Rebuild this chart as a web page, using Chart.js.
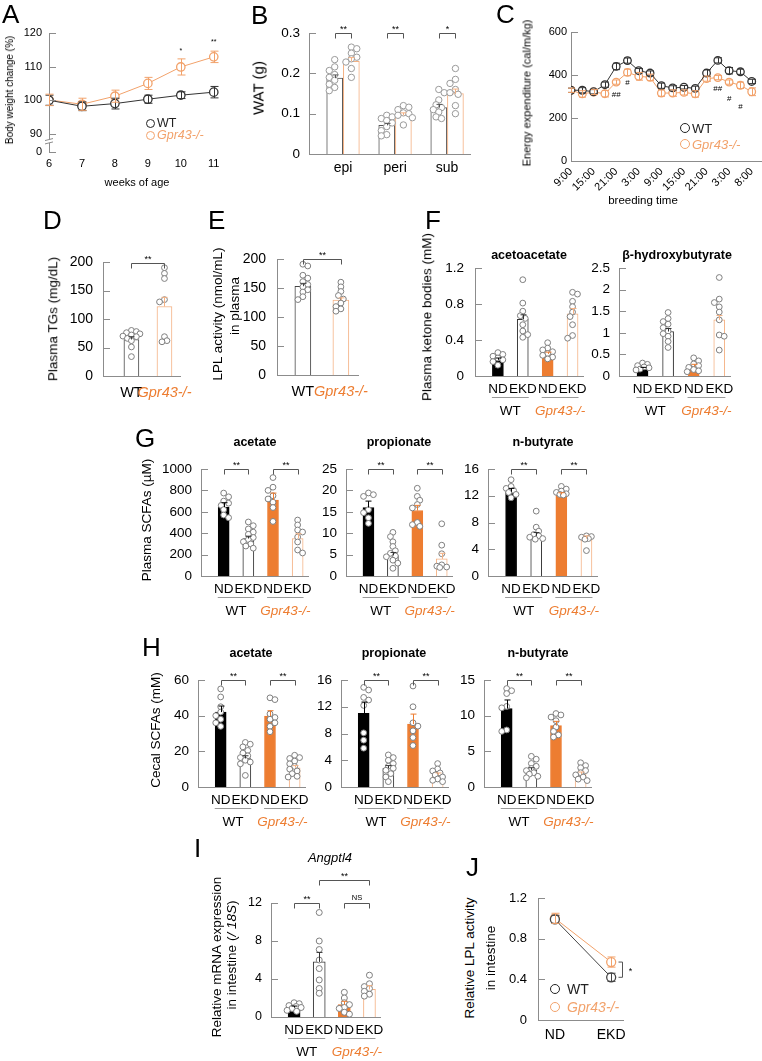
<!DOCTYPE html>
<html><head><meta charset="utf-8">
<script src="https://cdn.jsdelivr.net/npm/chart.js@4"></script>
<style>
html,body{margin:0;padding:0;background:#fff;overflow:hidden}
#page{position:relative;width:762px;height:1061px;overflow:hidden;font-family:Arial,"Liberation Sans",Helvetica,sans-serif;color:#000;background:#fff}
#page canvas{position:absolute}
.t{position:absolute;white-space:nowrap;line-height:1;transform:translate(-50%,-50%)}
.r{transform:translate(-50%,-50%) rotate(-90deg)}
.L{position:absolute;font-size:26px;line-height:26px}
.lg{position:absolute;white-space:nowrap;line-height:1;transform:translateY(-50%)}
.cc{position:absolute;border-radius:50%;box-sizing:border-box;border:1.5px solid}
</style></head><body><div id="page"></div>
<script>
// ================= DATA =================
// A: body weight change
const A_weeks = [6, 7, 8, 9, 10, 11];
const A_wt = [100.0, 98.2, 99.0, 100.3, 101.5, 102.4];
const A_wtErr = [1.5, 1.3, 1.6, 1.2, 1.0, 1.7];
const A_ko = [100.1, 98.8, 101.2, 105.0, 109.9, 112.9];
const A_koErr = [1.7, 1.8, 1.8, 1.8, 2.4, 1.7];
const A_yTicks = [84.6, 90, 100, 110, 120];
const A_yLabels = ['0', '90', '100', '110', '120'];
const A_sig = [{x: 10, y: 114.6, t: '*'}, {x: 11, y: 117.4, t: '**'}];

// B: WAT
const B_cats = ['epi', 'peri', 'sub'];
const B_wt = [0.188, 0.071, 0.115];
const B_wtErr = [0.008, 0.005, 0.008];
const B_ko = [0.23, 0.096, 0.15];
const B_koErr = [0.009, 0.006, 0.011];
const B_wtPts = [[0.234,0.216,0.207,0.197,0.19,0.183,0.173,0.165,0.157],
                 [0.096,0.092,0.088,0.083,0.077,0.068,0.058,0.048,0.045],
                 [0.16,0.152,0.134,0.122,0.115,0.11,0.104,0.092,0.088]];
const B_koPts = [[0.265,0.261,0.25,0.24,0.236,0.228,0.212,0.19],
                 [0.12,0.116,0.11,0.102,0.1,0.096,0.09,0.072],
                 [0.212,0.185,0.175,0.16,0.152,0.148,0.12,0.1]];
const B_sig = ['**', '**', '*'];
const B_yTicks = [0, 0.1, 0.2, 0.3];

// C: energy expenditure
const C_times = ['9:00','15:00','21:00','3:00','9:00','15:00','21:00','3:00','8:00'];
const C_wt = [329,329,322,355,440,467,420,409,350,340,343,338,409,468,420,415,370];
const C_wtErr = [10,12,10,12,15,12,10,10,12,10,8,10,15,12,15,12,10];
const C_ko = [329,312,321,313,367,412,394,389,316,316,319,312,383,388,367,352,322];
const C_koErr = [10,15,12,15,10,15,18,15,15,15,12,15,12,10,10,15,18];
const C_sig = [{i:4,y:308,t:'##'},{i:5,y:363,t:'#'},{i:13,y:335,t:'##'},{i:14,y:287,t:'#'},{i:15,y:252,t:'#'}];
const C_yTicks = [0, 200, 400, 600];

// D / E
const DE_groups = ['WT', 'Gpr43-/-'];
const D_mean = [64, 122];
const D_err = [5, 16];
const D_pts = [[80,78,76,74,72,70,69,66,62,51,34],[190,180,171,134,130,69,62,60]];
const D_yTicks = [0, 50, 100, 150, 200];
const E_mean = [153, 129];
const E_err = [5, 4];
const E_pts = [[191,188,172,167,161,156,152,147,143,135,130],[160,152,144,137,131,124,118,114,110]];
const E_yTicks = [0, 50, 100, 150, 200];

// diets / genotypes for 4-bar panels
const diets = ['ND', 'EKD', 'ND', 'EKD'];
const genotypes = ['WT', 'Gpr43-/-'];

// F: ketone bodies
const F_acetoMean = [0.18, 0.63, 0.245, 0.69];
const F_acetoErr = [0.02, 0.05, 0.02, 0.06];
const F_acetoPts = [[0.26,0.24,0.22,0.2,0.18,0.16,0.12],[1.07,0.81,0.72,0.67,0.64,0.57,0.5,0.46,0.43],
                    [0.37,0.31,0.29,0.27,0.25,0.23,0.21,0.19],[0.93,0.91,0.83,0.77,0.71,0.66,0.57,0.45,0.42]];
const F_acetoTicks = [0, 0.4, 0.8, 1.2];
const F_bhbMean = [0.18, 1.03, 0.22, 1.3];
const F_bhbErr = [0.02, 0.07, 0.05, 0.1];
const F_bhbPts = [[0.3,0.27,0.24,0.21,0.19,0.16,0.14],[1.47,1.33,1.26,1.2,1.12,1.04,0.98,0.92,0.8,0.66],
                  [0.42,0.35,0.28,0.24,0.2,0.15,0.12,0.1],[2.28,1.78,1.7,1.6,1.48,1.3,0.95,0.92,0.6]];
const F_bhbTicks = [0, 0.5, 1, 1.5, 2, 2.5];

// G: plasma SCFAs (uM)
const G_acMean = [645, 350, 710, 350];
const G_acErr = [40, 22, 65, 45];
const G_acPts = [[775,740,700,680,660,620,570,545],[505,470,440,410,390,360,340,320,300,280,260],
                 [920,830,800,750,720,690,640,510],[523,477,430,411,364,318,243,215]];
const G_acTicks = [0, 200, 400, 600, 800, 1000];
const G_prMean = [16, 4.8, 15.3, 4.0];
const G_prErr = [1.5, 0.7, 1.2, 1.3];
const G_prPts = [[19.4,19,18.6,15.5,14.8,13.6,12.3],[10.2,9.2,8,6.9,5.9,5.3,4.7,4.5,3.7,3,1.8],
                 [20.5,18.6,17.7,16.7,15.9,12.5,12,11.6],[12.2,7.2,5.2,2.6,2.3,2.0,2.1]];
const G_prTicks = [0, 5, 10, 15, 20, 25];
const G_buMean = [12.6, 6.0, 12.2, 5.6];
const G_buErr = [0.5, 0.5, 0.25, 0.4];
const G_buPts = [[14.4,13.4,13.1,12.8,12.5,12.2,11.7],[9.7,7.3,6.7,6.2,6.0,5.8,5.6,5.5],
                 [13.4,13,12.7,12.5,12.3,12.2,12.1],[6.0,5.9,5.8,5.6,5.5,3.8]];
const G_buTicks = [0, 4, 8, 12, 16];

// H: cecal SCFAs (mM)
const H_acMean = [42, 16, 39.8, 10.8];
const H_acErr = [3.4, 1.5, 3, 1.2];
const H_acPts = [[55,50.5,45,42,40,38,36,34],[25,24,22.5,20.5,19,17.5,16.5,15,14,13,6.5],
                 [50,49,41,39,38,36,34,31],[17.8,16.5,16,14.5,13,11.5,10,9,7.5,6,5.6]];
const H_acTicks = [0, 20, 40, 60];
const H_prMean = [11, 2.8, 9.4, 1.8];
const H_prErr = [1.7, 0.4, 1.5, 0.3];
const H_prPts = [[14.9,14.5,13.4,13,12.2,8.1,7,5.8],[4.8,4.4,4.0,3.5,3.1,2.8,2.5,2.0,1.5,0.8],
                 [15.1,12,9.6,9.1,8.4,7.4,6.2],[3.5,2.7,2.4,2.1,1.8,1.5,1.2,1.0,0.8]];
const H_prTicks = [0, 4, 8, 12, 16];
const H_buMean = [11, 2.4, 8.6, 1.8];
const H_buErr = [1.2, 0.3, 0.6, 0.3];
const H_buPts = [[13.8,13.5,13.1,11.3,11.1,8.0,7.8],[4.3,3.9,3.3,2.9,2.6,2.3,2.0,1.8,1.5,1.3],
                 [10.3,10.1,9.8,9.3,8.4,7.8,7.3,7.0],[3.4,3.0,2.7,2.3,2.0,1.7,1.4,1.1,0.9]];
const H_buTicks = [0, 5, 10, 15];

// I: Angptl4
const I_mean = [1.0, 5.8, 1.3, 2.9];
const I_err = [0.15, 1.0, 0.35, 0.4];
const I_pts = [[1.5,1.4,1.2,1.1,1.0,0.9,0.7,0.6],[11,8,7.1,6,5.1,3.9,3,2.5],
               [2.6,2.0,1.5,1.3,1.0,0.9,0.5,0.3],[4.4,3.5,3.2,3.0,2.7,2.4,2.2]];
const I_ticks = [0, 4, 8, 12];

// J: LPL activity in intestine
const J_diet = ['ND', 'EKD'];
const J_wt = [0.99, 0.42];
const J_wtErr = [0.04, 0.04];
const J_ko = [1.0, 0.57];
const J_koErr = [0.05, 0.05];
const J_ticks = [0, 0.4, 0.8, 1.2];

// ================= STYLE =================
const FONT = 'Arial, "Liberation Sans", Helvetica, sans-serif';
const AX = '#8c8c8c', OR = '#ED7D31', LOR = '#F4B183', LN_OR = '#F2A26B', DOT = '#7f7f7f';
Chart.defaults.font.family = FONT;
Chart.defaults.color = '#000';
const page = document.getElementById('page');
let exId = 0;

function geom(g) {
  const yW = g.yW, xH = g.xH, padT = g.padT ?? 25, padR = g.padR ?? 30;
  const left = g.x0 - yW, top = g.yTop - padT;
  return {left, top, w: Math.round(g.x1 - left + padR), h: Math.round(g.y0 + xH - top), yW, xH, padT, padR};
}
function makeCanvas(G) {
  const c = document.createElement('canvas');
  c.width = G.w; c.height = G.h;
  c.style.left = G.left + 'px'; c.style.top = G.top + 'px';
  c.style.width = G.w + 'px'; c.style.height = G.h + 'px';
  page.appendChild(c);
  return c;
}
function swarm(vals, pxY, r, half) {
  const placed = [], off = new Array(vals.length);
  const idx = vals.map((_, i) => i).sort((a, b) => vals[b] - vals[a]);
  const minD = 2 * r * 0.78, step = r * 0.85;
  idx.forEach(i => {
    const y = vals[i] * pxY;
    let best = null;
    for (let k = 0; k <= 12 && best === null; k++) {
      const cands = k === 0 ? [0] : ((k + i) % 2 ? [k * step, -k * step] : [-k * step, k * step]);
      for (const s of cands) {
        if (Math.abs(s) > half) continue;
        if (placed.every(p => Math.hypot(p.x - s, p.y - y) >= minD)) { best = s; break; }
      }
    }
    if (best === null) {
      let bd = -1; best = 0;
      for (let s = -half; s <= half; s += 0.5) {
        const dm = Math.min(...placed.map(p => Math.hypot(p.x - s, p.y - y)));
        if (dm > bd) { bd = dm; best = s; }
      }
    }
    placed.push({x: best, y}); off[i] = best;
  });
  return off;
}
function makeExtras(sp) {
  return {
    id: 'ex' + (++exId),
    afterDatasetsDraw(chart) {
      const ctx = chart.ctx, xs = chart.scales.x, ys = chart.scales.y, ca = chart.chartArea;
      const X = v => xs.getPixelForValue(v), Y = v => ys.getPixelForValue(v);
      ctx.save();
      ctx.lineWidth = 1; ctx.strokeStyle = AX;
      ys.ticks.forEach(t => {
        const y = Math.round(Y(t.value)) + 0.5;
        ctx.beginPath(); ctx.moveTo(ca.left, y); ctx.lineTo(ca.left + 7, y); ctx.stroke();
      });
      if (sp.breakAt) {
        const y1 = Y(sp.breakAt[0]), y2 = Y(sp.breakAt[1]);
        ctx.fillStyle = '#fff'; ctx.fillRect(ca.left - 2, y1, 4, y2 - y1);
        ctx.beginPath(); ctx.moveTo(ca.left - 4, y1 + 1); ctx.lineTo(ca.left + 4, y1 - 1);
        ctx.moveTo(ca.left - 4, y2 + 1); ctx.lineTo(ca.left + 4, y2 - 1); ctx.stroke();
      }
      (sp.errors || []).forEach(e => {
        const x = Math.round(X(e.x)) + 0.5, yt = Y(e.y + e.e), yb = e.both ? Y(e.y - e.e) : Y(e.y);
        ctx.strokeStyle = e.c; ctx.lineWidth = 1;
        ctx.beginPath(); ctx.moveTo(x, yt); ctx.lineTo(x, yb);
        ctx.moveTo(x - e.cap, yt); ctx.lineTo(x + e.cap, yt);
        if (e.both) { ctx.moveTo(x - e.cap, yb); ctx.lineTo(x + e.cap, yb); }
        ctx.stroke();
      });
      ctx.fillStyle = '#000'; ctx.textAlign = 'center';
      (sp.brackets || []).forEach(b => {
        const x1 = Math.round(X(b.a)) + 0.5, x2 = Math.round(X(b.b)) + 0.5, y = Math.round(Y(b.y)) + 0.5 - (b.dy || 0);
        ctx.strokeStyle = '#555'; ctx.lineWidth = 1;
        ctx.beginPath(); ctx.moveTo(x1, y + 5); ctx.lineTo(x1, y); ctx.lineTo(x2, y); ctx.lineTo(x2, y + 5); ctx.stroke();
        ctx.font = `${b.size || 9}px ${FONT}`; ctx.textBaseline = 'alphabetic';
        ctx.fillText(b.t, (x1 + x2) / 2, y - (b.t === 'NS' ? 4 : 2));
      });
      (sp.vbrackets || []).forEach(b => {
        const x = Math.round(X(b.x) + b.dx) + 0.5, y1 = Y(b.y1), y2 = Y(b.y2);
        ctx.strokeStyle = '#555';
        ctx.beginPath(); ctx.moveTo(x - 4, y1); ctx.lineTo(x, y1); ctx.lineTo(x, y2); ctx.lineTo(x - 4, y2); ctx.stroke();
        ctx.font = `9px ${FONT}`; ctx.textBaseline = 'middle';
        ctx.fillText(b.t, x + 8, (y1 + y2) / 2 + 2);
      });
      (sp.texts || []).forEach(t => {
        ctx.font = `${t.size || 8}px ${FONT}`; ctx.textBaseline = 'middle'; ctx.fillStyle = t.c || '#000';
        ctx.fillText(t.t, X(t.x), Y(t.y));
      });
      (sp.groups || []).forEach(gp => {
        const x1 = X(gp.a - 0.24), x2 = X(gp.b + 0.24), yl = Math.round(ca.bottom + 21) + 0.5;
        ctx.strokeStyle = '#9a9a9a'; ctx.lineWidth = 1;
        ctx.beginPath(); ctx.moveTo(x1, yl); ctx.lineTo(x2, yl); ctx.stroke();
        ctx.fillStyle = gp.c; ctx.textBaseline = 'middle';
        ctx.font = `${gp.italic ? 'italic ' : ''}13.5px ${FONT}`;
        ctx.fillText(gp.t, (X(gp.a) + X(gp.b)) / 2, ca.bottom + 35);
      });
      ctx.restore();
    }
  };
}
function baseOptions(G, d) {
  return {
    responsive: false, animation: false, devicePixelRatio: 1, events: [],
    layout: {padding: {top: G.padT, right: G.padR, left: 0, bottom: 0}},
    plugins: {legend: {display: false}, tooltip: {enabled: false}},
    scales: {
      x: {type: 'linear', min: d.xmin, max: d.xmax, offset: false,
          grid: {display: false, drawTicks: false},
          border: {display: d.xBorder !== false, color: AX, width: 1},
          afterBuildTicks: s => { s.ticks = d.xticks.map(v => ({value: v})); },
          afterFit: s => { s.height = G.xH; },
          ticks: {autoSkip: false, maxRotation: d.rot || 0, minRotation: d.rot || 0, padding: d.xPad,
                  callback: (v, i) => d.xlabels[i],
                  color: c => (d.xcolors ? d.xcolors[c.index] : '#000'),
                  font: c => ({family: FONT, size: d.xFont, style: (d.xitalic && d.xitalic[c.index]) ? 'italic' : 'normal'})}},
      y: {type: 'linear', min: d.ymin, max: d.ymax,
          grid: {display: false, drawTicks: false},
          border: {color: AX, width: 1},
          afterBuildTicks: s => { s.ticks = d.yticks.map(v => ({value: v})); },
          afterFit: s => { s.width = G.yW; },
          ticks: {padding: d.yPad || 8, callback: (v, i) => d.ylabels[i], color: '#000', font: {family: FONT, size: d.yFont}}}
    }
  };
}
function barChart(g, d) {
  const G = geom(g);
  const cv = makeCanvas(G);
  const pxX = (g.x1 - g.x0) / (d.xmax - d.xmin), pxY = (g.y0 - g.yTop) / (d.ymax - d.ymin);
  const pts = [];
  d.bars.forEach(b => {
    const off = swarm(b.pts, pxY, d.r, d.barW / 2 + 1);
    b.pts.forEach((v, j) => pts.push({x: b.x + off[j] / pxX, y: v}));
  });
  const sp = Object.assign({}, d.extra || {});
  sp.errors = d.bars.map(b => ({x: b.x, y: b.v, e: b.e, c: b.ec, cap: 3}));
  new Chart(cv, {
    type: 'bar',
    data: {datasets: [
      {type: 'scatter', data: pts, pointRadius: d.r, pointBackgroundColor: '#fff', pointBorderColor: d.dot || DOT, pointBorderWidth: 1, order: 0},
      {type: 'bar', data: d.bars.map(b => ({x: b.x, y: b.v})), backgroundColor: d.bars.map(b => b.fill),
       borderColor: d.bars.map(b => b.stroke), borderWidth: 1, barThickness: d.barW, grouped: false, order: 1}
    ]},
    options: baseOptions(G, d),
    plugins: [makeExtras(sp)]
  });
}
function lineChart(g, d) {
  const G = geom(g);
  const cv = makeCanvas(G);
  const sp = Object.assign({}, d.extra || {});
  sp.errors = [];
  d.series.forEach(s => s.y.forEach((v, i) => sp.errors.push({x: s.x[i], y: v, e: s.err[i], c: s.color, cap: d.cap || 3.5, both: true})));
  new Chart(cv, {
    type: 'scatter',
    data: {datasets: d.series.map(s => ({data: s.x.map((x, i) => ({x, y: s.y[i]})), showLine: true, borderColor: s.color,
      borderWidth: 1, pointRadius: d.r, pointBackgroundColor: '#fff', pointBorderColor: s.color, pointBorderWidth: 1.3}))},
    options: baseOptions(G, d),
    plugins: [makeExtras(sp)]
  });
}
const STD_FILL = ['#000', '#fff', OR, '#fff'], STD_STROKE = ['#000', '#333', OR, LOR], STD_ERR = ['#000', '#333', OR, LOR];
function fourBars(mean, err, pts) {
  return mean.map((v, i) => ({x: i, v, e: err[i], pts: pts[i], fill: STD_FILL[i], stroke: STD_STROKE[i], ec: STD_ERR[i]}));
}
function fourPanel(x0, x1, yTop, y0, ticks, mean, err, pts, o) {
  o = o || {};
  barChart({x0, x1, yTop, y0, yW: o.yW || 55, xH: 50, padT: o.padT || 28, padR: 30}, {
    xmin: -0.92, xmax: 3.42, ymin: 0, ymax: ticks[ticks.length - 1], yticks: ticks, ylabels: ticks.map(String),
    xticks: [0, 1, 2, 3], xlabels: diets, xFont: 13.5, xPad: 5, yFont: o.yFont || 13.5, yPad: o.yPad || 9,
    r: o.r || 2.9, barW: o.barW || 11, bars: fourBars(mean, err, pts),
    extra: {
      brackets: o.brackets || [],
      groups: [{a: 0, b: 1, t: genotypes[0], c: '#000'}, {a: 2, b: 3, t: genotypes[1], c: OR, italic: true}]
    }
  });
}

// ================= PANELS =================
// A
lineChart({x0: 49, x1: 222, yTop: 33, y0: 152, yW: 45, xH: 30, padT: 20, padR: 20}, {
  xmin: 6, xmax: 11.25, ymin: 84.6, ymax: 120, yticks: A_yTicks, ylabels: A_yLabels,
  xticks: A_weeks, xlabels: A_weeks.map(String), xFont: 11, xPad: 5, yFont: 11, yPad: 7, xBorder: false, r: 4.2, cap: 4,
  series: [{x: A_weeks, y: A_wt, err: A_wtErr, color: '#333'}, {x: A_weeks, y: A_ko, err: A_koErr, color: LN_OR}],
  extra: {breakAt: [88.3, 87.3], texts: A_sig.map(s => ({x: s.x, y: s.y, t: s.t, size: 7}))}
});
// B
(function () {
  const bars = [];
  B_cats.forEach((c, i) => {
    bars.push({x: i - 0.16, v: B_wt[i], e: B_wtErr[i], pts: B_wtPts[i], fill: '#fff', stroke: '#555', ec: '#555'});
    bars.push({x: i + 0.16, v: B_ko[i], e: B_koErr[i], pts: B_koPts[i], fill: '#fff', stroke: LOR, ec: LOR});
  });
  barChart({x0: 309, x1: 470, yTop: 33, y0: 154, yW: 55, xH: 30, padT: 28, padR: 20}, {
    xmin: -0.654, xmax: 2.44, ymin: 0, ymax: 0.3, yticks: B_yTicks, ylabels: B_yTicks.map(String),
    xticks: [0, 1, 2], xlabels: B_cats, xFont: 14, xPad: 6, yFont: 13.5, yPad: 9,
    r: 3.2, barW: 16, dot: '#9a9a9a', bars,
    extra: {brackets: B_cats.map((c, i) => ({a: i - 0.16, b: i + 0.16, y: 0.3, t: B_sig[i]}))}
  });
})();
// C
lineChart({x0: 571, x1: 763, yTop: 32, y0: 161, yW: 45, xH: 45, padT: 20, padR: 10}, {
  xmin: 0, xmax: 17, ymin: 0, ymax: 600, yticks: C_yTicks, ylabels: C_yTicks.map(String),
  xticks: C_times.map((_, i) => i * 2), xlabels: C_times, rot: 45, xFont: 11, xPad: 4, yFont: 11, yPad: 4, r: 3.8, cap: 3.5,
  series: [{x: C_wt.map((_, i) => i), y: C_wt, err: C_wtErr, color: '#333'},
           {x: C_ko.map((_, i) => i), y: C_ko, err: C_koErr, color: LN_OR}],
  extra: {texts: C_sig.map(s => ({x: s.i, y: s.y, t: s.t, size: 8}))}
});
// D
barChart({x0: 103, x1: 180, yTop: 262, y0: 376, yW: 60, xH: 30, padT: 28, padR: 40}, {
  xmin: -0.86, xmax: 1.47, ymin: 0, ymax: 200, yticks: D_yTicks, ylabels: D_yTicks.map(String),
  xticks: [0, 1], xlabels: DE_groups, xcolors: ['#000', OR], xitalic: [false, true], xFont: 14.5, xPad: 8, yFont: 14, yPad: 10,
  r: 2.9, barW: 15,
  bars: [{x: 0, v: D_mean[0], e: D_err[0], pts: D_pts[0], fill: '#fff', stroke: '#444', ec: '#444'},
         {x: 1, v: D_mean[1], e: D_err[1], pts: D_pts[1], fill: '#fff', stroke: LOR, ec: LOR}],
  extra: {brackets: [{a: 0, b: 1, y: 198, t: '**'}]}
});
// E
barChart({x0: 277, x1: 358, yTop: 259, y0: 375, yW: 60, xH: 30, padT: 28, padR: 40}, {
  xmin: -0.68, xmax: 1.45, ymin: 0, ymax: 200, yticks: E_yTicks, ylabels: E_yTicks.map(String),
  xticks: [0, 1], xlabels: DE_groups, xcolors: ['#000', OR], xitalic: [false, true], xFont: 14.5, xPad: 8, yFont: 14, yPad: 11,
  r: 2.9, barW: 16,
  bars: [{x: 0, v: E_mean[0], e: E_err[0], pts: E_pts[0], fill: '#fff', stroke: '#444', ec: '#444'},
         {x: 1, v: E_mean[1], e: E_err[1], pts: E_pts[1], fill: '#fff', stroke: LOR, ec: LOR}],
  extra: {brackets: [{a: 0, b: 1, y: 200, t: '**'}]}
});
// F
fourPanel(475, 583, 268, 376, F_acetoTicks, F_acetoMean, F_acetoErr, F_acetoPts, {yPad: 11});
fourPanel(619, 730, 268, 376, F_bhbTicks, F_bhbMean, F_bhbErr, F_bhbPts, {yPad: 9});
// G
const pairBr = [{a: 0, b: 1, y: 0, t: '**'}, {a: 2, b: 3, y: 0, t: '**'}];
function br(max) { return pairBr.map(b => Object.assign({}, b, {y: max})); }
fourPanel(201, 308, 469, 576, G_acTicks, G_acMean, G_acErr, G_acPts, {brackets: br(1000)});
fourPanel(346, 452, 469, 576, G_prTicks, G_prMean, G_prErr, G_prPts, {brackets: br(25)});
fourPanel(488, 597, 469, 576, G_buTicks, G_buMean, G_buErr, G_buPts, {brackets: br(16)});
// H
fourPanel(198, 305, 680, 787, H_acTicks, H_acMean, H_acErr, H_acPts, {brackets: br(60)});
fourPanel(341, 448, 680, 787, H_prTicks, H_prMean, H_prErr, H_prPts, {brackets: br(16)});
fourPanel(484, 591, 680, 787, H_buTicks, H_buMean, H_buErr, H_buPts, {brackets: br(15)});
// I
fourPanel(271, 380, 903, 1017, I_ticks, I_mean, I_err, I_pts, {yFont: 12.5, yPad: 9, barW: 12, r: 3, padT: 50,
  brackets: [{a: 0, b: 1, y: 12, t: '**'}, {a: 2, b: 3, y: 12, t: 'NS', size: 7.5}, {a: 1, b: 3, y: 14.4, t: '**'}]});
// J
lineChart({x0: 538, x1: 623, yTop: 898, y0: 1020, yW: 50, xH: 30, padT: 20, padR: 40}, {
  xmin: -0.3, xmax: 1.21, ymin: 0, ymax: 1.2, yticks: J_ticks, ylabels: J_ticks.map(String),
  xticks: [0, 1], xlabels: J_diet, xFont: 14, xPad: 7, yFont: 13, yPad: 11, r: 4.5, cap: 4,
  series: [{x: [0, 1], y: J_wt, err: J_wtErr, color: '#444'}, {x: [0, 1], y: J_ko, err: J_koErr, color: LN_OR}],
  extra: {vbrackets: [{x: 1, dx: 11, y1: J_ko[1], y2: J_wt[1], t: '*'}]}
});

// ================= TEXT =================
function T(html, x, y, css, rot) {
  const d = document.createElement('div');
  d.className = 't' + (rot ? ' r' : '');
  d.style.cssText = `left:${x}px;top:${y}px;` + (css || '');
  d.innerHTML = html; page.appendChild(d);
}
function letter(s, x, capTop) {
  const d = document.createElement('div');
  d.className = 'L'; d.style.left = x + 'px'; d.style.top = (capTop - 3.4) + 'px';
  d.textContent = s; page.appendChild(d);
}
function legend(cx, cy, r, tx, text, color, italic, size) {
  const c = document.createElement('div');
  c.className = 'cc';
  c.style.cssText = `left:${cx - r}px;top:${cy - r}px;width:${2 * r}px;height:${2 * r}px;border-color:${color}`;
  page.appendChild(c);
  const t = document.createElement('div');
  t.className = 'lg';
  t.style.cssText = `left:${tx}px;top:${cy}px;font-size:${size}px;color:${color};${italic ? 'font-style:italic;' : ''}`;
  t.textContent = text; page.appendChild(t);
}
letter('A', 2, 4); letter('B', 251, 5); letter('C', 496, 4);
letter('D', 43, 210); letter('E', 208, 210); letter('F', 425, 210);
letter('G', 135, 428); letter('H', 142, 637); letter('I', 194, 838); letter('J', 466, 857);

// A
T('Body weight change (%)', 10, 90, 'font-size:10px', true);
T('weeks of age', 137, 182, 'font-size:11px');
legend(150, 123, 4.5, 157, 'WT', '#222', false, 12.5);
legend(150, 135, 4.5, 157, 'Gpr43-/-', LN_OR, true, 12.5);
// B
T('WAT (g)', 258, 88, 'font-size:15px', true);
// C
T('Energy expenditure (cal/m/kg)', 527, 93, 'font-size:11px', true);
T('breeding time', 643, 201, 'font-size:11.5px');
legend(685, 128, 5, 692, 'WT', '#222', false, 13);
legend(685, 144, 5, 692, 'Gpr43-/-', LN_OR, true, 13);
// D, E
T('Plasma TGs (mg/dL)', 53, 319, 'font-size:13.5px', true);
T('LPL activity (nmol/mL)', 218, 314, 'font-size:13.5px', true);
T('in plasma', 235, 306, 'font-size:13.5px', true);
// F
T('Plasma ketone bodies (mM)', 427, 317, 'font-size:13.5px', true);
T('acetoacetate', 529, 255, 'font-size:12.5px;font-weight:bold');
T('β-hydroxybutyrate', 677, 255, 'font-size:12.5px;font-weight:bold');
// G
T('Plasma SCFAs (µM)', 147, 520, 'font-size:13.5px', true);
T('acetate', 255, 442, 'font-size:12.5px;font-weight:bold');
T('propionate', 399, 442, 'font-size:12.5px;font-weight:bold');
T('n-butyrate', 543, 442, 'font-size:12.5px;font-weight:bold');
// H
T('Cecal SCFAs (mM)', 156, 730, 'font-size:13.5px', true);
T('acetate', 251, 653, 'font-size:12.5px;font-weight:bold');
T('propionate', 394, 653, 'font-size:12.5px;font-weight:bold');
T('n-butyrate', 538, 653, 'font-size:12.5px;font-weight:bold');
// I
T('Angptl4', 330, 857, 'font-size:13px;font-style:italic');
T('Relative mRNA expression', 217, 957, 'font-size:13.5px', true);
T('in intestine (<i>/ 18S</i>)', 232, 955, 'font-size:13.5px', true);
// J
T('Relative LPL activity', 470, 958, 'font-size:13.5px', true);
T('in intestine', 491, 958, 'font-size:13.5px', true);
legend(555, 989, 5, 567, 'WT', '#222', false, 14);
legend(555, 1007, 5, 567, 'Gpr43-/-', LN_OR, true, 14);
</script></body></html>
